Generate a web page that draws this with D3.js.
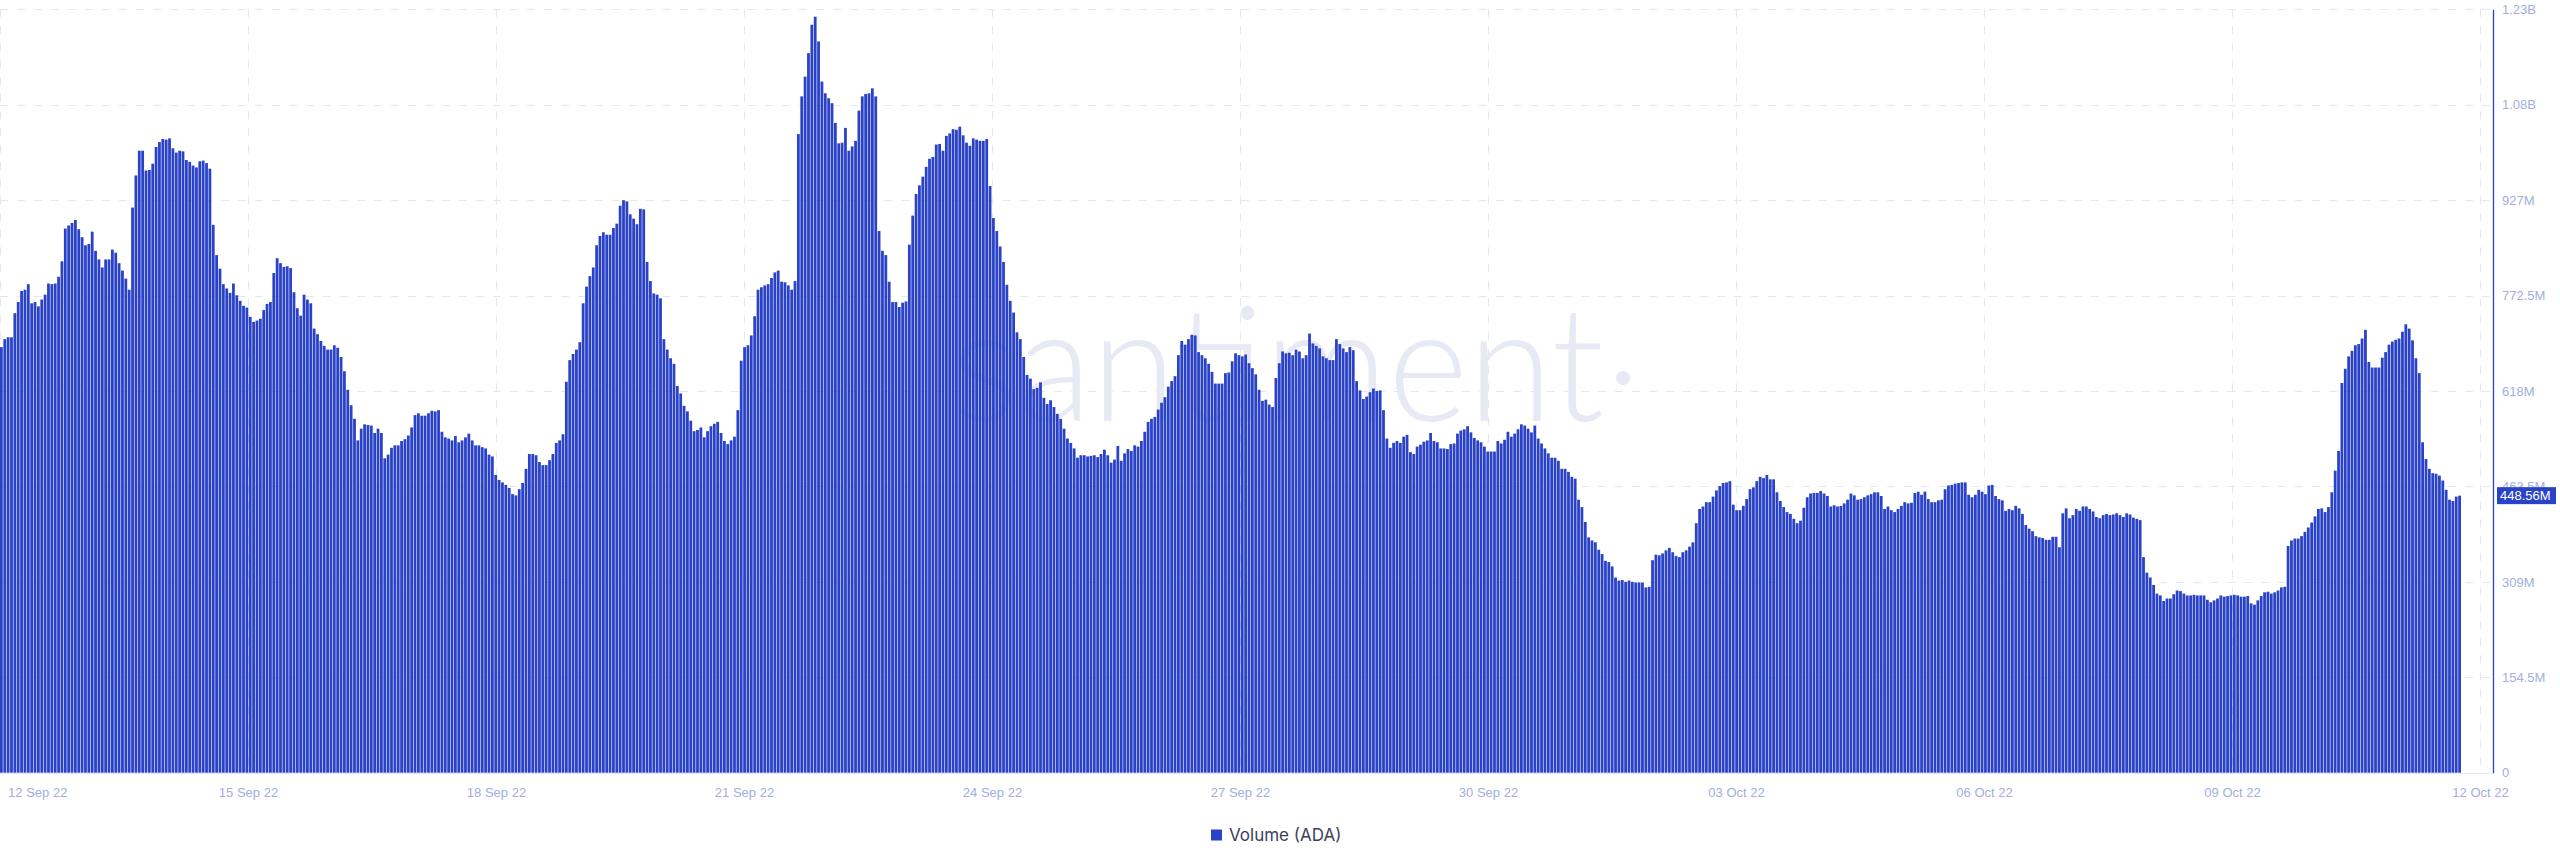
<!DOCTYPE html>
<html><head><meta charset="utf-8">
<script src="https://cdn.jsdelivr.net/npm/d3@7"></script>
<style>
html,body{margin:0;padding:0;background:#fff;}
svg{display:block;}
</style></head><body>
<svg id="chart" width="2560" height="867"></svg>
<script>
// Hourly trading volume of ADA, in millions, read left to right (12 Sep 22 -> 11 Oct 22)
const volumeM = [
689,702,705,705,744,762,780,782,791,760,762,755,766,774,792,791,792,803,828,881,
886,890,895,880,867,854,856,876,845,831,818,831,831,847,842,825,813,800,782,915,
967,1007,1007,975,976,986,1013,1021,1026,1025,1027,1011,1004,1007,1006,992,989,983,980,990,
991,987,978,887,838,816,791,784,777,792,773,764,756,753,738,730,732,735,749,759,
762,809,833,825,819,820,817,778,752,740,774,766,760,719,710,699,691,685,685,692,
688,673,650,620,595,
573,538,557,564,563,562,550,557,550,509,515,526,530,530,537,540,546,559,579,582,
578,578,582,586,585,587,552,543,541,538,545,535,538,543,549,538,530,530,527,525,
515,512,482,474,470,466,461,451,449,459,469,492,516,516,514,503,498,498,506,516,
534,538,548,633,668,678,685,697,760,787,804,818,854,869,875,871,871,882,889,918,
927,925,904,897,888,913,912,827,796,776,774,768,702,685,671,662,626,614,594,585,
570,553,555,559,543,553,
561,565,568,550,537,532,538,544,587,667,689,692,708,739,782,786,789,791,801,810,
813,795,794,789,782,796,1034,1095,1127,1165,1211,1224,1184,1119,1100,1092,1084,1052,1019,1020,
1044,1007,1014,1023,1072,1095,1099,1100,1108,1095,877,845,838,795,762,762,754,761,763,855,
902,937,951,965,981,994,997,1017,1018,1007,1031,1035,1042,1041,1046,1032,1020,1015,1027,1025,
1023,1023,1026,950,898,877,852,827,790,764,745,713,702,673,644,638,621,623,632,607,
597,603,592,581,573,
557,541,534,525,510,514,514,512,513,514,511,516,523,514,502,507,529,505,517,524,
521,530,528,537,552,568,573,576,588,599,608,625,634,642,676,699,693,702,709,708,
681,676,671,662,649,630,630,630,647,648,666,679,676,674,677,663,655,645,620,602,
604,596,592,639,663,682,679,680,676,685,682,671,676,711,695,691,687,674,671,668,
668,702,694,687,681,689,684,634,619,605,609,616,622,618,619,587,541,526,534,537,
534,544,547,
519,516,528,531,536,538,550,537,535,525,525,524,532,533,549,554,556,561,551,542,
538,535,528,520,520,520,537,533,539,552,544,549,556,564,562,557,551,562,541,533,
525,517,510,510,505,492,492,487,479,476,442,430,406,381,376,373,361,354,343,341,
334,316,311,312,309,311,309,308,308,308,300,301,344,353,352,355,360,364,357,351,
349,357,360,366,373,404,427,431,438,438,447,457,464,469,470,472,434,425,425,432,
443,459,462,472,479,
477,482,475,475,454,440,430,422,419,411,404,408,429,446,452,453,453,456,452,448,
431,433,431,432,436,442,452,449,442,443,446,449,451,454,454,448,427,431,425,422,
427,432,438,436,437,453,455,450,455,443,438,438,441,442,459,465,466,468,469,470,
470,450,446,450,458,455,451,465,466,448,443,441,424,427,425,432,428,419,401,395,
391,383,381,380,377,377,382,382,365,420,428,412,417,427,424,431,431,427,423,414,
412,417,419,417,418,
420,417,414,420,418,413,411,409,349,324,316,304,290,287,278,282,282,289,295,294,
290,287,287,288,287,287,287,280,276,279,282,287,285,286,287,288,287,285,285,286,
274,272,279,286,292,293,290,292,295,300,301,367,376,379,379,383,390,397,405,415,
427,428,422,430,454,489,521,631,654,674,683,692,694,703,717,665,656,656,656,672,
681,693,698,701,703,714,726,719,700,671,647,535,508,492,485,484,481,473,458,442,
440,447,448.56
];

const yTickValues = [0, 154.5, 309, 463.5, 618, 772.5, 927, 1081.5, 1236];
const yTickLabels = ["0", "154.5M", "309M", "463.5M", "618M", "772.5M", "927M", "1.08B", "1.23B"];
const xTickLabels = ["12 Sep 22", "15 Sep 22", "18 Sep 22", "21 Sep 22", "24 Sep 22", "27 Sep 22",
                     "30 Sep 22", "03 Oct 22", "06 Oct 22", "09 Oct 22", "12 Oct 22"];
const xDomain = ["12 Sep 22", "12 Oct 22"];
const seriesName = "Volume (ADA)";
const lastValueLabel = "448.56M";
const watermark = "santiment";

const BLUE = "#2a42c8";
const GRID = "#e3e6f3";
const TICK_TEXT = "#a3ade2";

const svg = d3.select("#chart");
const axisX = 2493, yTop = 9.3, yBottom = 772.7, barsRight = 2461;

const y = d3.scaleLinear().domain([0, 1236]).range([yBottom, yTop]);
const xBand = d3.scaleBand().domain(d3.range(volumeM.length)).range([0, barsRight])
  .paddingInner(0.17).paddingOuter(0);
const parseDay = d3.utcParse("%d %b %y");
const xTime = d3.scaleUtc().domain(xDomain.map(parseDay)).range([0, 2480]);
const xTickDates = xTickLabels.map(parseDay);

// grid
const grid = svg.append("g");
grid.selectAll("line.h").data(yTickValues.slice(1)).join("line")
  .attr("x1", 0).attr("x2", axisX)
  .attr("y1", d => Math.round(y(d)) + 0.5).attr("y2", d => Math.round(y(d)) + 0.5)
  .attr("stroke", GRID).attr("stroke-width", 1).attr("stroke-dasharray", "8,9");
grid.append("line").attr("x1", 0).attr("x2", axisX)
  .attr("y1", Math.round(yBottom) + 0.5).attr("y2", Math.round(yBottom) + 0.5)
  .attr("stroke", GRID).attr("stroke-width", 1);
grid.selectAll("line.v").data(xTickDates).join("line")
  .attr("x1", d => Math.round(xTime(d)) + 0.5).attr("x2", d => Math.round(xTime(d)) + 0.5)
  .attr("y1", yTop).attr("y2", yBottom)
  .attr("stroke", GRID).attr("stroke-width", 1).attr("stroke-dasharray", "8,9");

// watermark
svg.append("text").attr("x", 952).attr("y", 421)
  .attr("font-family", "Lato, 'Open Sans', sans-serif").attr("font-weight", 300)
  .attr("font-size", 160).attr("fill", "#e7e9f4")
  .attr("textLength", 652).attr("lengthAdjust", "spacingAndGlyphs")
  .text(watermark);
svg.append("circle").attr("cx", 1623).attr("cy", 378).attr("r", 7).attr("fill", "#e7e9f4");

// bars
svg.append("g").selectAll("rect").data(volumeM).join("rect")
  .attr("x", (d, i) => xBand(i)).attr("width", xBand.bandwidth())
  .attr("y", d => y(d)).attr("height", d => yBottom - y(d))
  .attr("fill", BLUE);

// right axis
const yAxis = svg.append("g").attr("transform", `translate(${axisX},0)`)
  .call(d3.axisRight(y).tickValues(yTickValues).tickFormat((d, i) => yTickLabels[i])
    .tickSize(0).tickPadding(9));
yAxis.select(".domain").attr("stroke", BLUE).attr("stroke-width", 1.3);
yAxis.selectAll("text").attr("fill", TICK_TEXT).attr("font-size", 13)
  .attr("font-family", "'Liberation Sans', Arial, sans-serif");

// bottom axis
const xAxis = svg.append("g").attr("transform", `translate(0,${yBottom})`)
  .call(d3.axisBottom(xTime).tickValues(xTickDates).tickFormat((d, i) => xTickLabels[i])
    .tickSize(0).tickPadding(15));
xAxis.select(".domain").remove();
xAxis.selectAll("text").attr("fill", TICK_TEXT).attr("font-size", 13)
  .attr("font-family", "'Liberation Sans', Arial, sans-serif");
xAxis.selectAll(".tick").filter((d, i) => i === 0).select("text")
  .attr("text-anchor", "start").attr("x", 7.6);

// last value badge (covers the 463.5M tick label, as in the reference)
const lastV = volumeM[volumeM.length - 1];
svg.append("rect").attr("x", 2497).attr("y", y(lastV) - 8.5).attr("width", 59).attr("height", 17)
  .attr("fill", BLUE);
svg.append("text").attr("x", 2500).attr("y", y(lastV)).attr("dy", "0.35em")
  .attr("fill", "#fff").attr("font-size", 13)
  .attr("font-family", "'Liberation Sans', Arial, sans-serif").text(lastValueLabel);

// legend
const legend = svg.append("g");
legend.append("rect").attr("x", 1211).attr("y", 829.5).attr("width", 11).attr("height", 11).attr("fill", BLUE);
legend.append("text").attr("x", 1229).attr("y", 840.5).attr("font-size", 17)
  .attr("font-family", "Inter, 'Open Sans', sans-serif").attr("fill", "#3b3f5a")
  .text(seriesName);
</script>
</body></html>
